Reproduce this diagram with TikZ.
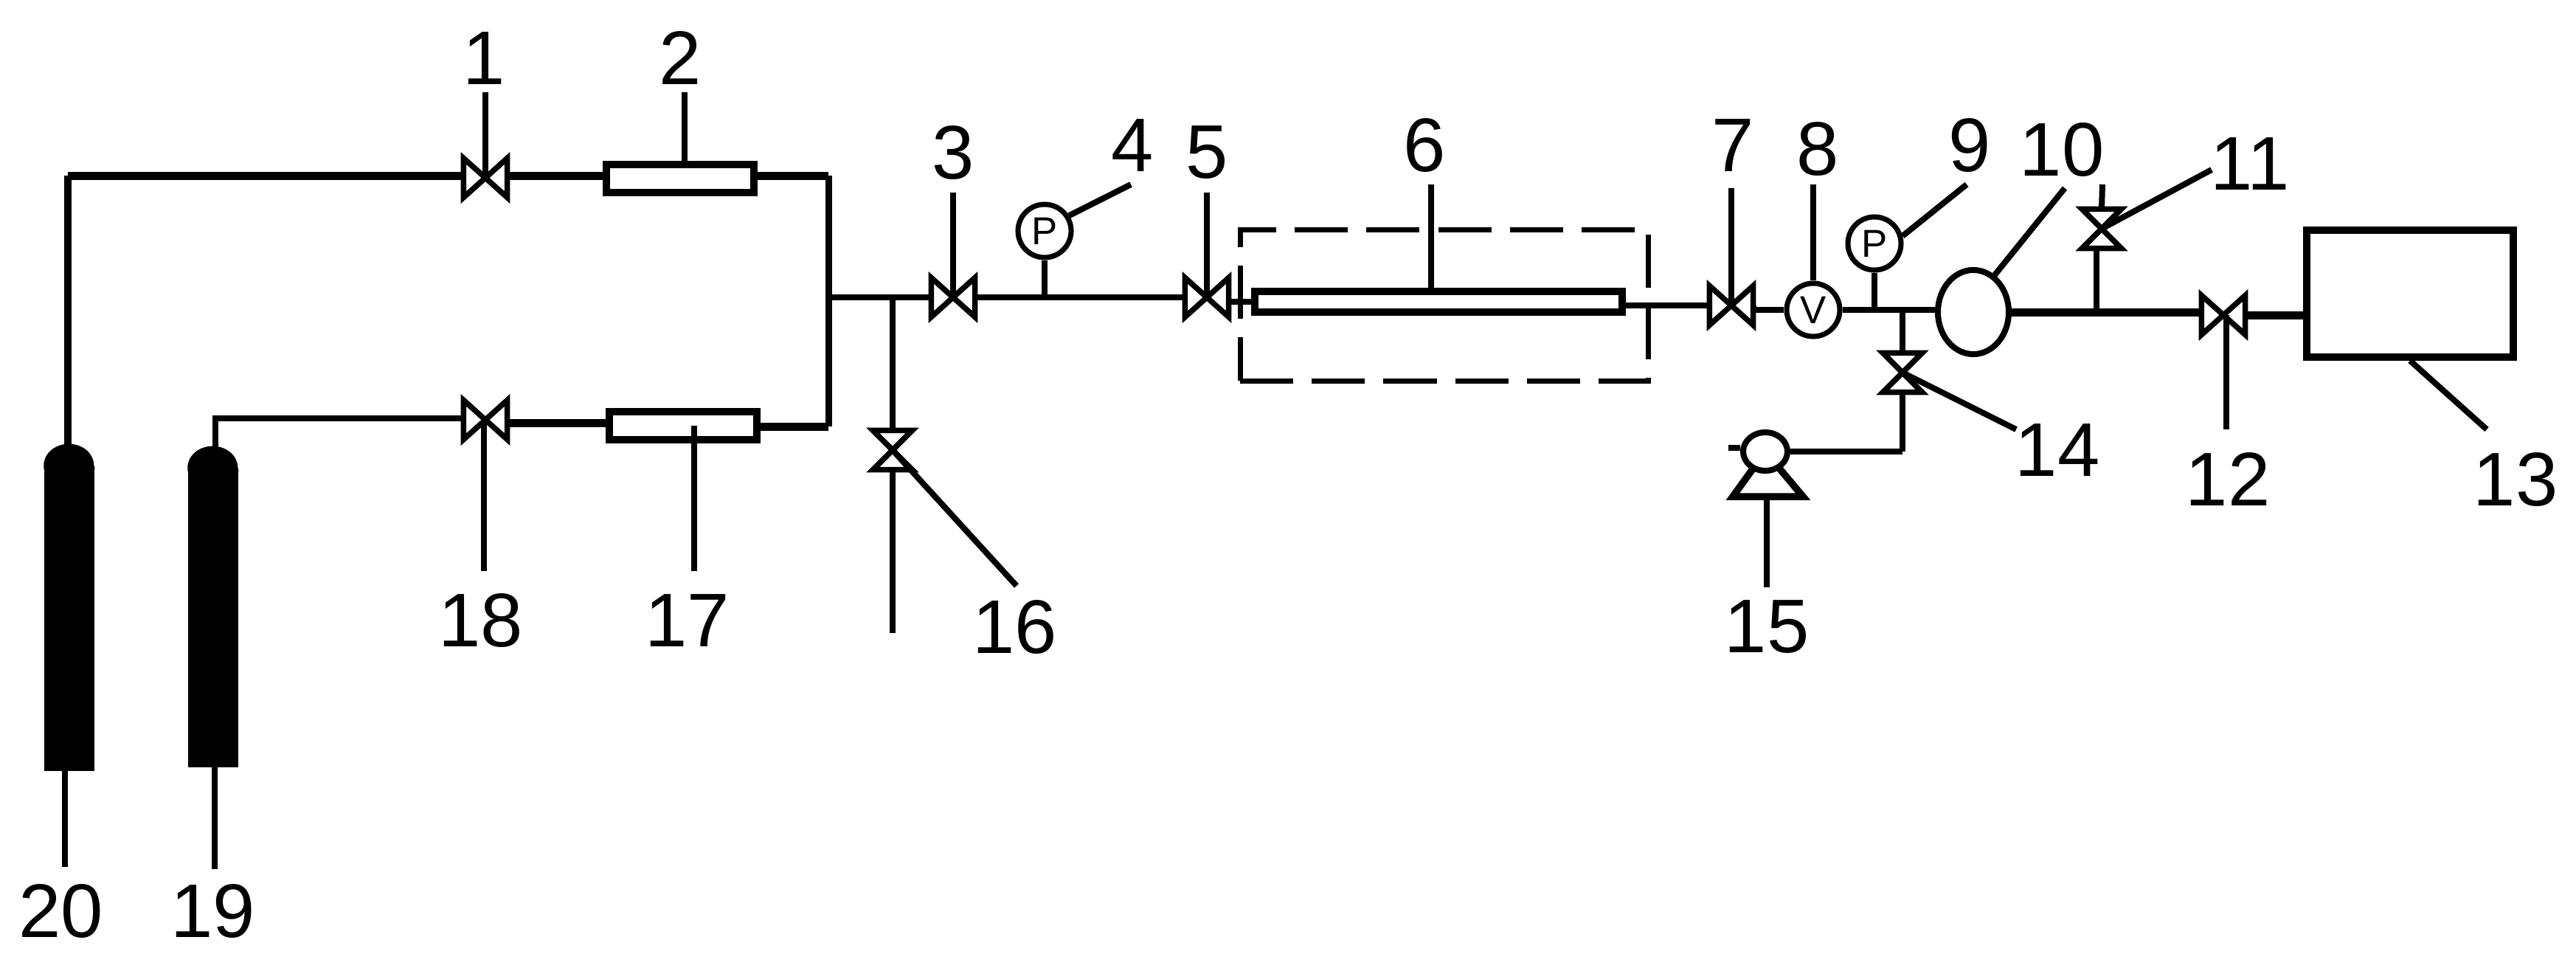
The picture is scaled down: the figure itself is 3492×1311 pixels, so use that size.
\documentclass[tikz,border=0pt]{standalone}
\usepackage{fontspec}
\setmainfont{Liberation Sans}
\usetikzlibrary{shapes.geometric}
\tikzset{
  pipe/.style={line width=.08cm},
  fatpipe/.style={line width=.11cm},
  leader/.style={line width=.08cm},
  part/.style={draw,line width=.095cm,rectangle,inner sep=0pt},
  num/.style={inner sep=0pt,font=\fontsize{29.3}{30}\selectfont},
  valve/.style={rectangle,inner sep=0pt,minimum width=.58cm,minimum height=.52cm,
    append after command={\pgfextra{\draw[line width=.075cm,miter limit=3]
    (\tikzlastnode.north west) -- (\tikzlastnode.south east)
    -- (\tikzlastnode.north east) -- (\tikzlastnode.south west) -- cycle;}}},
  valvev/.style={rectangle,inner sep=0pt,minimum width=.52cm,minimum height=.52cm,
    append after command={\pgfextra{\draw[line width=.075cm,miter limit=3]
    (\tikzlastnode.north west) -- (\tikzlastnode.north east)
    -- (\tikzlastnode.south west) -- (\tikzlastnode.south east) -- cycle;}}},
  gauge/.style={draw,circle,line width=.07cm,inner sep=0pt,minimum size=.72cm,
    font=\fontsize{15}{15}\selectfont},
  bottle/.style={fill=black,rectangle,inner sep=0pt,minimum width=.68cm,
    append after command={\pgfextra{\fill
    ([yshift=-.05cm]\tikzlastnode.north west) -- (\tikzlastnode.north west)
    arc[start angle=180,end angle=0,x radius=.34cm,y radius=.29cm]
    -- ([yshift=-.05cm]\tikzlastnode.north east) -- cycle;}}},
}
\begin{document}
\begin{tikzpicture}[x=.01cm,y=-.01cm]
    \useasboundingbox (0,0) rectangle (3492,1311);
    %definitions
    \coordinate (b20) at (92,238);
    \coordinate (b19) at (292,567);
    \coordinate (b1) at (1123,238);
    \coordinate (b2) at (1123,578);
    \coordinate (j1) at (1123,403);
    \coordinate (j18) at (700,573);
    \coordinate (j9) at (2579,420);
    \coordinate (j11) at (2842,425);
    \coordinate (b15) at (2579,612);
    \coordinate (pa) at (2393,612);
    \coordinate (pb1) at (2349,673);
    \coordinate (pb2) at (2444,673);
    \coordinate (pt) at (2343,607);
    %free ends of the leaders
    \coordinate (t1) at (658,125);
    \coordinate (t2) at (928,125);
    \coordinate (t3) at (1292,261);
    \coordinate (t4) at (1533,250);
    \coordinate (t5) at (1636,261);
    \coordinate (t6) at (1940,250);
    \coordinate (t7) at (2347,255);
    \coordinate (t8) at (2458,250);
    \coordinate (t9) at (2666,250);
    \coordinate (t10) at (2799,255);
    \coordinate (t11) at (2998,230);
    \coordinate (t11s) at (2850,250);
    \coordinate (t12) at (3018,582);
    \coordinate (t13) at (3371,582);
    \coordinate (t14) at (2733,582);
    \coordinate (t15) at (2395,796);
    \coordinate (t16) at (1378,794);
    \coordinate (t16s) at (1210,858);
    \coordinate (t17) at (941,774);
    \coordinate (t18) at (656,774);
    \coordinate (t19) at (291,1178);
    \coordinate (t20) at (88,1175);
    %parts
    \node[valve] (v1) at (658,241) {};
    \node[valve] (v3) at (1292,403) {};
    \node[valve] (v5) at (1636,403) {};
    \node[valve] (v7) at (2347,414) {};
    \node[valve] (v12) at (3014,427) {};
    \node[valve] (v18) at (658,569) {};
    \node[valvev] (v11) at (2849,310) {};
    \node[valvev] (v14) at (2579,505) {};
    \node[valvev] (v16) at (1210,610) {};
    \node[part,minimum width=2.0cm,minimum height=.38cm] (r2) at (922,242) {};
    \node[part,minimum width=2.0cm,minimum height=.38cm] (r17) at (926,577) {};
    \node[part,minimum width=4.98cm,minimum height=.28cm] (tube) at (1950,409) {};
    \node[part,minimum width=2.8cm,minimum height=1.72cm] (tank) at (3267,398) {};
    \node[draw,rectangle,dashed,dash pattern=on .72cm off .25cm,line width=.07cm,inner sep=0pt,
      minimum width=5.53cm,minimum height=2.04cm] (oven) at (1958,414) {};
    \node[gauge] (g4) at (1416,313) {P};
    \node[gauge] (g8) at (2458,420) {V};
    \node[gauge] (g9) at (2541,330) {P};
    \node[draw,ellipse,line width=.08cm,inner sep=0pt,minimum width=.96cm,minimum height=1.14cm] (tank10) at (2675,423) {};
    \node[bottle,minimum height=4.13cm] (cyl20) at (94,838) {};
    \node[bottle,minimum height=4.05cm] (cyl19) at (289,837) {};
    %drawing
    \draw[fatpipe] (b20) -- (b20 -| v1.west);
    \draw[pipe,line width=.09cm] (b20) -- (b20 |- cyl20.north);
    \draw[fatpipe] (b20 -| v1.east) -- (b20 -| r2.west);
    \draw[fatpipe] (b1 -| r2.east) -- (b1);
    \draw[pipe,line width=.09cm] (b1) -- (b2);
    \draw[fatpipe] (b2 -| r17.east) -- (b2);
    \draw[pipe] (b19 |- cyl19.north) -- (b19) -- (b19 -| v18.west);
    \draw[fatpipe] (j18 -| v18.east) -- (j18 -| r17.west);
    \draw[pipe] (j1) -- (v3.west);
    \draw[pipe] (v3.east) -- (v5.west);
    \draw[pipe] (v16.north) -- (v16.north |- j1);
    \draw[pipe] (v16.south) -- (t16s);
    \draw[pipe] (g4.south) -- (g4.south |- v3.east);
    \draw[pipe] (tube.west) -- (tube.west -| v5.east);
    \draw[pipe] (v7.west) -- (v7.west -| tube.east);
    \draw[pipe] (v7.east) -- (v7.east |- g8.west) -- (g8.west);
    \draw[pipe] (g8.east) -- (tank10.west |- g8.east);
    \draw[pipe] (g9.south) -- (g9.south |- j9);
    \draw[pipe] (j9) -- (v14.north);
    \draw[pipe] (v14.south) -- (b15);
    \draw[fatpipe] (tank10.east) -- (tank10.east -| v12.west);
    \draw[pipe] (v11.south -| j11) -- (j11);
    \draw[fatpipe] (v12.east) -- (v12.east -| tank.west);
    \draw[part] (pb1) -- (pb2) -- (pa) -- cycle;
    \node[draw,ellipse,fill=white,line width=.08cm,inner sep=0pt,minimum width=.6cm,minimum height=.52cm] (pump) at (pa) {};
    \draw[pipe] (pump.east) -- (b15);
    \draw[pipe] (pt) -- (pt -| pump.west);
    %leaders
    \draw[leader] (t1) -- (v1.center);
    \draw[leader] (t2) -- (t2 |- r2.north);
    \draw[leader] (t3) -- (v3.center);
    \draw[leader] (t4) -- (g4.32);
    \draw[leader] (t5) -- (v5.center);
    \draw[leader] (t6) -- (t6 |- tube.north);
    \draw[leader] (t7) -- (v7.center);
    \draw[leader] (t8) -- (g8.north);
    \draw[leader] (t9) -- (g9.15);
    \draw[leader] (t10) -- (tank10.60);
    \draw[leader] (t11) -- (v11.center);
    \draw[leader] (t11s) -- (v11.north);
    \draw[leader] (t12) -- (t12 |- v12.center);
    \draw[leader] (t13) -- (tank.south);
    \draw[leader] (t14) -- (v14.center);
    \draw[leader] (t15) -- (t15 |- pb1);
    \draw[leader] (t16) -- (v16.center);
    \draw[leader] (t17) -- (t17 |- r17.center);
    \draw[leader] (t18) -- (t18 |- v18.center);
    \draw[leader] (t19) -- (t19 |- cyl19.south);
    \draw[leader] (t20) -- (t20 |- cyl20.south);
    %label
    \node[num] (l1) at (656,79) {1};
    \node[num] (l2) at (922,79) {2};
    \node[num] (l3) at (1292,207) {3};
    \node[num] (l4) at (1535,197) {4};
    \node[num] (l5) at (1636,207) {5};
    \node[num] (l6) at (1931,197) {6};
    \node[num] (l7) at (2349,197) {7};
    \node[num] (l8) at (2464,202) {8};
    \node[num] (l9) at (2670,197) {9};
    \node[num] (l10) at (2795,203) {10};
    \node[num] (l11) at (3050,222) {11};
    \node[num] (l12) at (3020,650) {12};
    \node[num] (l13) at (3410,650) {13};
    \node[num] (l14) at (2789,610) {14};
    \node[num] (l15) at (2395,850) {15};
    \node[num] (l16) at (1376,850) {16};
    \node[num] (l17) at (932,841) {17};
    \node[num] (l18) at (652,841) {18};
    \node[num] (l19) at (289,1235) {19};
    \node[num] (l20) at (83,1235) {20};
\end{tikzpicture}
\end{document}
